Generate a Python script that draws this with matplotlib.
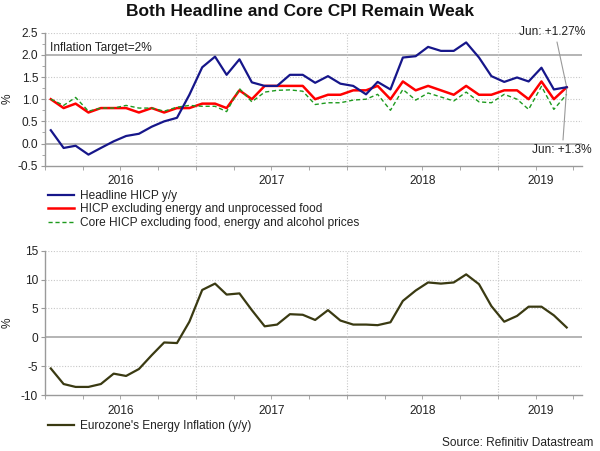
import matplotlib
matplotlib.use("Agg")
import matplotlib.pyplot as plt
import matplotlib.dates as mdates
import matplotlib.transforms as mtransforms
import numpy as np
import pandas as pd

plt.rcParams['font.family'] = ['Liberation Sans', 'DejaVu Sans']
plt.rcParams['axes.unicode_minus'] = False

months = pd.date_range("2016-01-01", periods=42, freq="MS") + pd.Timedelta(days=14)

headline = [0.3, -0.1, -0.05, -0.25, -0.1, 0.05, 0.17, 0.22, 0.38, 0.5, 0.58, 1.1,
            1.72, 1.96, 1.55, 1.9, 1.38, 1.3, 1.3, 1.55, 1.55, 1.37, 1.52, 1.35,
            1.3, 1.11, 1.39, 1.22, 1.94, 1.97, 2.18, 2.09, 2.09, 2.28, 1.94, 1.52,
            1.39, 1.49, 1.4, 1.71, 1.22, 1.27]
ex_energy_unproc = [1.0, 0.8, 0.9, 0.7, 0.8, 0.8, 0.8, 0.7, 0.8, 0.7, 0.8, 0.8,
                    0.9, 0.9, 0.8, 1.2, 1.0, 1.3, 1.3, 1.3, 1.3, 1.0, 1.1, 1.1,
                    1.2, 1.2, 1.3, 1.0, 1.4, 1.2, 1.3, 1.2, 1.1, 1.3, 1.1, 1.1,
                    1.2, 1.2, 1.0, 1.4, 1.0, 1.27]
core = [1.0, 0.86, 1.04, 0.73, 0.8, 0.8, 0.86, 0.8, 0.8, 0.73, 0.82, 0.86,
        0.84, 0.84, 0.72, 1.24, 0.94, 1.16, 1.2, 1.21, 1.18, 0.88, 0.92, 0.92,
        0.98, 1.0, 1.11, 0.75, 1.22, 0.98, 1.14, 1.05, 0.96, 1.16, 0.94, 0.92,
        1.11, 1.0, 0.77, 1.29, 0.77, 1.11]
energy = [-5.4, -8.1, -8.6, -8.6, -8.1, -6.3, -6.7, -5.5, -3.1, -0.9, -1.0, 2.7,
          8.2, 9.3, 7.4, 7.6, 4.7, 1.9, 2.2, 4.0, 3.9, 3.0, 4.7, 2.9,
          2.2, 2.2, 2.1, 2.6, 6.3, 8.1, 9.5, 9.3, 9.5, 10.9, 9.2, 5.4,
          2.7, 3.7, 5.3, 5.3, 3.8, 1.7]

labels_top = ["Headline HICP y/y",
              "HICP excluding energy and unprocessed food",
              "Core HICP excluding food, energy and alcohol prices"]
label_bottom = "Eurozone's Energy Inflation (y/y)"
title = "Both Headline and Core CPI Remain Weak"
years = [2016, 2017, 2018, 2019]
top_yticks = [-0.5, 0.0, 0.5, 1.0, 1.5, 2.0, 2.5]
bottom_yticks = [-10, -5, 0, 5, 10, 15]

W, H = 600, 451
fig = plt.figure(figsize=(6, 4.51), dpi=100)

xmin = mdates.date2num(pd.Timestamp("2016-01-01"))
xmax = mdates.date2num(pd.Timestamp("2019-07-22"))

FS = 8.6
TXT = '#222222'
GRID = '#c8c8c8'
SPINE = '#9a9a9a'

def setup(ax, ylim, yticks, solid_levels):
    ax.set_xlim(xmin, xmax)
    ax.set_ylim(*ylim)
    for s in ['top', 'right']:
        ax.spines[s].set_visible(False)
    for s in ['left', 'bottom']:
        ax.spines[s].set_color(SPINE)
        ax.spines[s].set_linewidth(1.0)
    ax.set_yticks(yticks)
    for yv in yticks:
        if yv in solid_levels:
            ax.axhline(yv, color='#a8a8a8', lw=1.2, zorder=1)
        elif yv != ylim[0]:
            ax.axhline(yv, color=GRID, lw=0.8, ls=(0, (1, 1.5)), zorder=1)
    bounds = [mdates.date2num(pd.Timestamp(f"{y}-01-01")) for y in years]
    for b in bounds[1:]:
        ax.axvline(b, color=GRID, lw=0.8, ls=(0, (1, 1.5)), zorder=1)
    q = pd.date_range("2016-01-01", "2019-07-01", freq="QS")
    ax.set_xticks(mdates.date2num(q), minor=True)
    ends = bounds[1:] + [xmax]
    centers = [(a + b) / 2 for a, b in zip(bounds, ends)]
    ax.set_xticks(centers)
    ax.set_xticklabels([str(y) for y in years])
    ax.tick_params(axis='x', which='major', length=0, pad=7, labelsize=FS, labelcolor=TXT)
    ax.tick_params(axis='x', which='minor', length=3, color=SPINE, direction='out')
    ax.tick_params(axis='y', which='major', length=3, color=SPINE, pad=2, labelsize=FS, labelcolor=TXT)
    ax.set_ylabel('%', fontsize=FS, color=TXT)
    ax.yaxis.set_label_coords(-31 / 537, 0.5)

# Top axes
ax1 = fig.add_axes([45 / W, 1 - 165.7 / H, 537 / W, 133 / H])
setup(ax1, (-0.5, 2.5), top_yticks, [0.0, 2.0])
ax1.set_yticklabels([f"{v:.1f}" for v in top_yticks])
ax1.set_yticks(np.arange(-0.5, 2.51, 0.25), minor=True)
ax1.tick_params(axis='y', which='minor', length=2, color=SPINE)
l1, = ax1.plot(months, headline, color='#16168a', lw=1.6, zorder=4)
l2, = ax1.plot(months, ex_energy_unproc, color='#ff0000', lw=1.8, zorder=3)
l3, = ax1.plot(months, core, color='#1e9a1e', lw=1.0, ls=(0, (3, 2)), zorder=3)
ax1.text(0.009, 2.02, "Inflation Target=2%",
         transform=mtransforms.blended_transform_factory(ax1.transAxes, ax1.transData),
         fontsize=FS, color=TXT, ha='left', va='bottom')

end_x = mdates.date2num(months[-1])
end_y = headline[-1]
ax1.annotate("", xy=(end_x, end_y), xytext=(557, H - 42), textcoords='figure pixels',
             arrowprops=dict(arrowstyle='-', color='#999999', lw=0.8, shrinkA=0, shrinkB=0))
ax1.annotate("", xy=(end_x, end_y), xytext=(563, H - 140), textcoords='figure pixels',
             arrowprops=dict(arrowstyle='-', color='#999999', lw=0.8, shrinkA=0, shrinkB=0))
fig.text(552 / W, 1 - 32 / H, "Jun: +1.27%", fontsize=FS, color=TXT, ha='center', va='center')
fig.text(562 / W, 1 - 150 / H, "Jun: +1.3%", fontsize=FS, color=TXT, ha='center', va='center')

fig.legend([l1, l2, l3], labels_top, loc='upper left',
           bbox_to_anchor=(48 / W, 1 - 190 / H), frameon=False, fontsize=FS,
           handlelength=2.2, handletextpad=0.5, labelspacing=0.12, borderpad=0,
           borderaxespad=0, labelcolor=TXT)

# Bottom axes
ax2 = fig.add_axes([45 / W, 1 - 395 / H, 537 / W, 144.3 / H])
setup(ax2, (-10, 15), bottom_yticks, [0])
l4, = ax2.plot(months, energy, color='#3a3a12', lw=1.6, zorder=3)
fig.legend([l4], [label_bottom], loc='upper left',
           bbox_to_anchor=(48 / W, 1 - 420 / H), frameon=False, fontsize=FS,
           handlelength=2.2, handletextpad=0.5, borderpad=0, borderaxespad=0,
           labelcolor=TXT)

fig.text(593 / W, 1 - 443 / H, "Source: Refinitiv Datastream", fontsize=FS, color=TXT,
         ha='right', va='center')
fig.text(300 / W, 1 - 12 / H, title, fontsize=12.5, fontweight='bold', color='#111111',
         ha='center', va='center')

fig.savefig("out.png", dpi=100)
